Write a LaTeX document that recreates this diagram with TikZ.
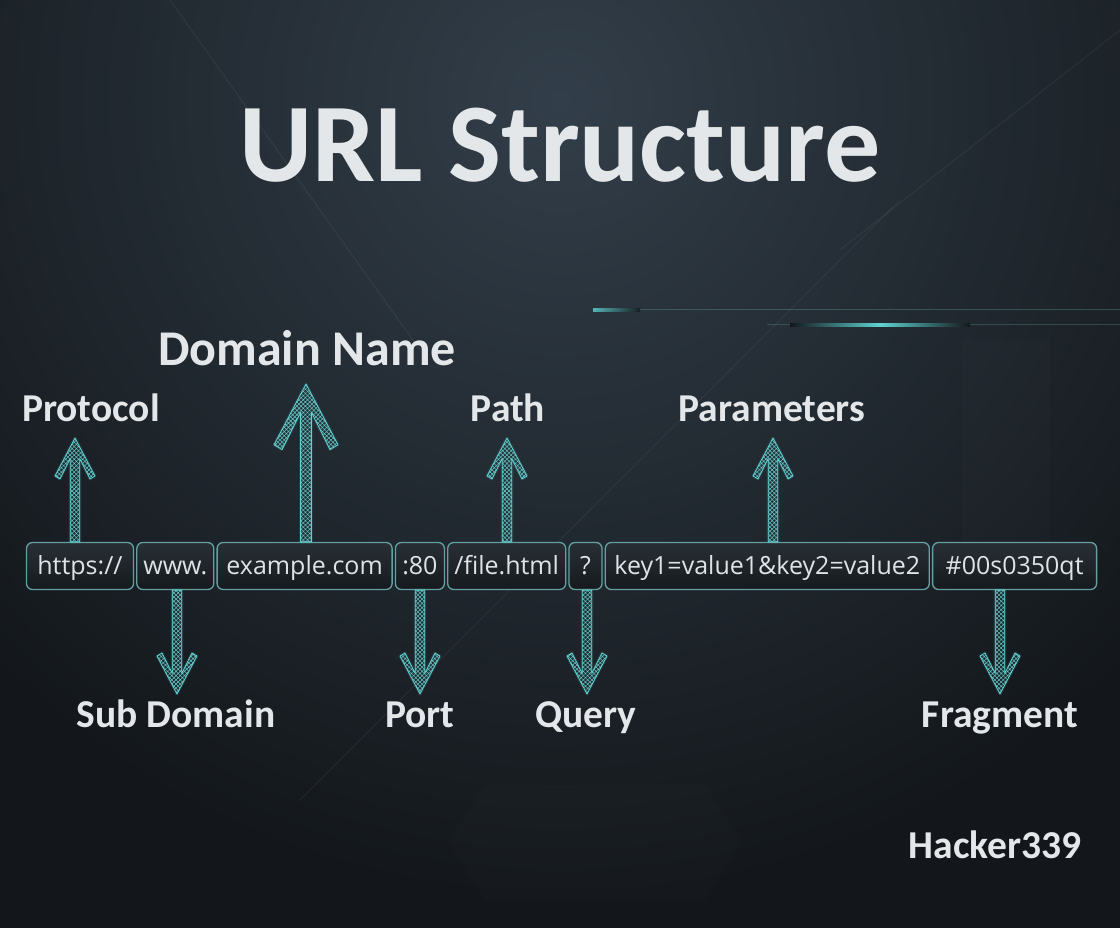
\documentclass[tikz,border=0pt]{standalone}
\usepackage{fontspec}
\usepackage{tikz}
\usetikzlibrary{positioning,calc,patterns.meta}
\newfontfamily\headfont{Carlito}
\newfontfamily\urlfont{Open Sans}

\definecolor{bgdark}{RGB}{19,23,27}
\definecolor{bgglow}{RGB}{50,62,73}
\definecolor{boxtop}{RGB}{40,47,53}
\definecolor{boxbot}{RGB}{22,26,30}
\definecolor{boxedge}{RGB}{100,160,162}
\definecolor{urltext}{RGB}{222,227,229}
\definecolor{lbltext}{RGB}{228,231,233}
\definecolor{meshteal}{RGB}{105,190,190}
\definecolor{meshdark}{RGB}{28,66,70}
\definecolor{glowteal}{RGB}{95,210,210}

% hatched arrow from a box edge (#1) to its tip (#2); #3 = 1 up, -1 down; #4 = head size
\newcommand{\urlarrow}[4]{%
  \pgfmathsetmacro{\hdw}{20*#4}%
  \pgfmathsetmacro{\hdl}{38*#4*(#3)}%
  \pgfmathsetmacro{\hde}{41*#4*(#3)}%
  \pgfmathsetmacro{\hdx}{15*#4}%
  \pgfmathsetmacro{\shw}{3.8+#4}%
  \pgfmathsetmacro{\shj}{(11*#4+2*\shw)*(#3)}%
  \def\arrowoutline{(#2) -- ($(#2)+(\hdw,\hdl)$) -- ($(#2)+(\hdx,\hde)$) -- ($(#2)+(\shw,\shj)$)
    -- ($(#1)+(\shw,0)$) -- ($(#1)+(-\shw,0)$) -- ($(#2)+(-\shw,\shj)$)
    -- ($(#2)+(-\hdx,\hde)$) -- ($(#2)+(-\hdw,\hdl)$) -- cycle}%
  \draw[meshglow] \arrowoutline;
  \fill[meshbody] \arrowoutline;
  \path[meshfill] \arrowoutline;
  \draw[meshline] \arrowoutline;
}

\begin{document}
\begin{tikzpicture}[x=1pt, y=-1pt,
  urlbox/.style={draw=boxedge, line width=1.3pt, rounded corners=6pt,
    top color=boxtop, bottom color=boxbot, minimum height=47pt, inner xsep=3pt,
    text height=20pt, text depth=4pt, text=urltext,
    font=\urlfont\fontsize{25}{28}\selectfont},
  partlbl/.style={anchor=base, inner sep=0pt, text=lbltext,
    font=\headfont\bfseries\fontsize{39.5}{42}\selectfont},
  meshglow/.style={draw=glowteal, line width=3pt, opacity=.12, line join=round},
  meshbody/.style={fill=meshdark, fill opacity=.35},
  meshfill/.style={pattern={Hatch[angle=45,distance=3pt,line width=.55pt]}, pattern color=meshteal},
  meshline/.style={draw=glowteal, line width=.8pt, line join=round},
  streak/.style={white, opacity=.06, line width=1pt}]

\useasboundingbox (0,0) rectangle (1120,928);

% background
\fill[bgdark] (0,0) rectangle (1120,928);
\begin{scope}
  \clip (0,0) rectangle (1120,928);
  \shade[inner color=bgglow, outer color=bgdark] (560,100) circle (800pt);
  \draw[streak] (170,0) -- (420,350);
  \draw[streak] (900,200) -- (300,800);
  \draw[streak] (1120,30) -- (840,250);
  \draw[boxedge, opacity=.35, line width=1pt] (593,310) -- (1120,310);
  \shade[left color=glowteal, right color=bgdark, opacity=.8] (593,308.5) rectangle (640,311.5);
  \draw[boxedge, opacity=.3, line width=1pt] (767,325) -- (1120,325);
  \shade[left color=bgdark, right color=bgdark, middle color=glowteal] (790,323.5) rectangle (970,326.5);
  \fill[white, opacity=.01] (962,340) rectangle (1050,560);
  \fill[white, opacity=.012] (485,785) -- (705,785) -- (742,842) -- (705,900) -- (485,900) -- (448,842) -- cycle;
\end{scope}

% title
\node[anchor=base, inner sep=0pt, text=lbltext, font=\headfont\bfseries\fontsize{112}{120}\selectfont] (title) at (560,182) {URL Structure};

% url parts
\node[urlbox, minimum width=107pt] (https) at (80,566) {https://};
\node[urlbox, minimum width=77pt, right=2pt of https] (www) {www.};
\node[urlbox, minimum width=175pt, right=2pt of www] (domain) {example.com};
\node[urlbox, minimum width=49pt, right=2pt of domain] (port) {:80};
\node[urlbox, minimum width=118pt, right=2pt of port] (path) {/file.html};
\node[urlbox, minimum width=33pt, right=2pt of path] (query) {?};
\node[urlbox, minimum width=324pt, right=2pt of query] (params) {key1=value1\&key2=value2};
\node[urlbox, minimum width=164pt, right=2pt of params] (frag) {\#00s0350qt};

% labels above
\node[partlbl] (protolbl) at (91,421) {Protocol};
\node[partlbl, font=\headfont\bfseries\fontsize{50}{54}\selectfont] (domainlbl) at (307,365) {Domain Name};
\node[partlbl] (pathlbl) at (508,421) {Path};
\node[partlbl] (paramlbl) at (772,421) {Parameters};
% labels below
\node[partlbl] (sublbl) at (176,727) {Sub Domain};
\node[partlbl] (portlbl) at (420,727) {Port};
\node[partlbl] (querylbl) at (586,727) {Query};
\node[partlbl] (fraglbl) at (1000,727) {Fragment};
\node[partlbl] (credit) at (995,858) {Hacker339};

% arrow tips and feet
\coordinate (prototip) at (75,438);
\coordinate (domaintip) at (306,384);
\coordinate (pathtip) at (507,438);
\coordinate (paramtip) at (773,438);
\coordinate (subtip) at (177,694);
\coordinate (porttip) at (420,694);
\coordinate (querytip) at (587,694);
\coordinate (fragtip) at (1000,694);
\coordinate (protobase) at (https.north -| prototip);
\coordinate (domainbase) at (domain.north -| domaintip);
\coordinate (pathbase) at (path.north -| pathtip);
\coordinate (parambase) at (params.north -| paramtip);
\coordinate (subbase) at (www.south -| subtip);
\coordinate (portbase) at (port.south -| porttip);
\coordinate (querybase) at (query.south -| querytip);
\coordinate (fragbase) at (frag.south -| fragtip);

% arrows
\urlarrow{protobase}{prototip}{1}{1}
\urlarrow{domainbase}{domaintip}{1}{1.6}
\urlarrow{pathbase}{pathtip}{1}{1}
\urlarrow{parambase}{paramtip}{1}{1}
\urlarrow{subbase}{subtip}{-1}{1}
\urlarrow{portbase}{porttip}{-1}{1}
\urlarrow{querybase}{querytip}{-1}{1}
\urlarrow{fragbase}{fragtip}{-1}{1}
\end{tikzpicture}
\end{document}
